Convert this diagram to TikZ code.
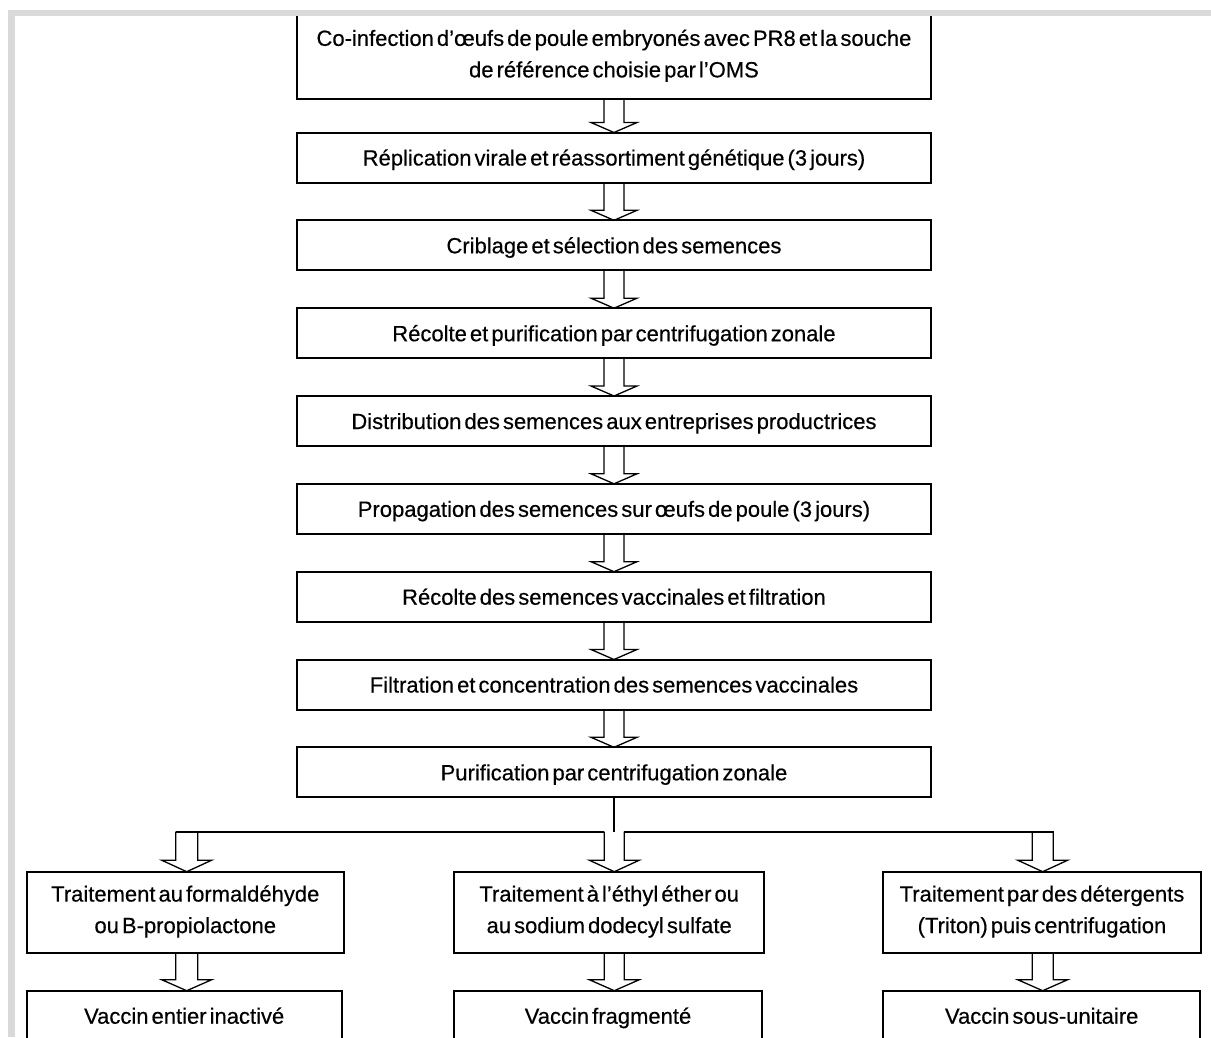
\documentclass[tikz,border=0pt]{standalone}
\usepackage{fontspec}
\setmainfont[WordSpace=0.5,FakeBold=0.4]{Liberation Sans}
\usetikzlibrary{calc}
\definecolor{band}{RGB}{217,217,217}
\newcommand\boxstrut{\rule[-6pt]{0pt}{28pt}}
\tikzset{
  stepbox/.style={draw=black, line width=2pt, minimum width=634pt, minimum height=50pt,
    inner sep=0pt, outer sep=0pt, align=center, font=\fontsize{22}{31.5}\selectfont,
    execute at begin node=\boxstrut},
  hollow/.style={draw=black, line width=1.3pt, line join=miter},
  joinline/.style={draw=black, line width=2pt},
}
\newcommand\hollowarrow[5]{%
  \draw[hollow] ($(#1)+(-#3,0)$) -- ($(#2)+(-#3,-#5)$) -- ($(#2)+(-#4,-#5)$) -- (#2)
    -- ($(#2)+(#4,-#5)$) -- ($(#2)+(#3,-#5)$) -- ($(#1)+(#3,0)$);}
\begin{document}
\begin{tikzpicture}[x=1pt,y=-1pt]
\clip (0,0) rectangle (1211,1037);
\fill[white] (0,0) rectangle (1211,1037);
% main column
\node[stepbox, minimum height=84pt] (s1) at (614,56.5) {Co-infection d'œufs de poule embryonés avec PR8 et la souche\\de référence choisie par l'OMS};
\node[stepbox] (s2) at (614,157.5) {Réplication virale et réassortiment génétique (3 jours)};
\node[stepbox] (s3) at (614,245.3) {Criblage et sélection des semences};
\node[stepbox] (s4) at (614,333.2) {Récolte et purification par centrifugation zonale};
\node[stepbox] (s5) at (614,421.0) {Distribution des semences aux entreprises productrices};
\node[stepbox] (s6) at (614,508.8) {Propagation des semences sur œufs de poule (3 jours)};
\node[stepbox] (s7) at (614,596.7) {Récolte des semences vaccinales et filtration};
\node[stepbox] (s8) at (614,684.5) {Filtration et concentration des semences vaccinales};
\node[stepbox] (s9) at (614,772.3) {Purification par centrifugation zonale};
\foreach \a/\b in {s1/s2,s2/s3,s3/s4,s4/s5,s5/s6,s6/s7,s7/s8,s8/s9}{
  \hollowarrow{\a.south}{\b.north}{10}{23}{10}
}
% bottom boxes
\node[stepbox, minimum width=317.3pt, minimum height=81pt] (a1) at (185.3,912.2) {Traitement au formaldéhyde\\ou B-propiolactone};
\node[stepbox, minimum width=309.7pt, minimum height=81pt] (b1) at (609.2,912.2) {Traitement à l'éthyl éther ou\\au sodium dodecyl sulfate};
\node[stepbox, minimum width=317.4pt, minimum height=81pt] (c1) at (1042,912.2) {Traitement par des détergents\\(Triton) puis centrifugation};
\node[stepbox, minimum width=315pt] (a2) at (184.2,1015.7) {Vaccin entier inactivé};
\node[stepbox, minimum width=307.4pt] (b2) at (608,1015.7) {Vaccin fragmenté};
\node[stepbox, minimum width=316.7pt] (c2) at (1041.7,1015.7) {Vaccin sous-unitaire};
% junction
\coordinate (jl) at (186.7,831.7);
\coordinate (jm) at (614.3,831.7);
\coordinate (jr) at (1042.7,831.7);
\draw[joinline] (s9.south) -- (s9.south |- jm);
\draw[joinline] ($(jl)+(-11,0)$) -- ($(jm)+(-10,0)$);
\draw[joinline] ($(jm)+(10,0)$) -- ($(jr)+(11,0)$);
\coordinate (ta1) at (a1.north -| jl);
\coordinate (tb1) at (b1.north -| jm);
\coordinate (tc1) at (c1.north -| jr);
\hollowarrow{jl}{ta1}{11}{25}{11.5}
\hollowarrow{jm}{tb1}{10}{25}{11.5}
\hollowarrow{jr}{tc1}{10.5}{25}{11.5}
\coordinate (fa) at (a1.south -| jl);
\coordinate (fb) at (b1.south -| jm);
\coordinate (fc) at (c1.south -| jr);
\coordinate (ta2) at (a2.north -| jl);
\coordinate (tb2) at (b2.north -| jm);
\coordinate (tc2) at (c2.north -| jr);
\hollowarrow{fa}{ta2}{11}{25}{11}
\hollowarrow{fb}{tb2}{10}{25}{11}
\hollowarrow{fc}{tc2}{10.5}{25}{11}
% grey frame
\fill[band] (8,10) rectangle (1211,16);
\fill[band] (8,10) rectangle (15,1037);
\end{tikzpicture}
\end{document}
